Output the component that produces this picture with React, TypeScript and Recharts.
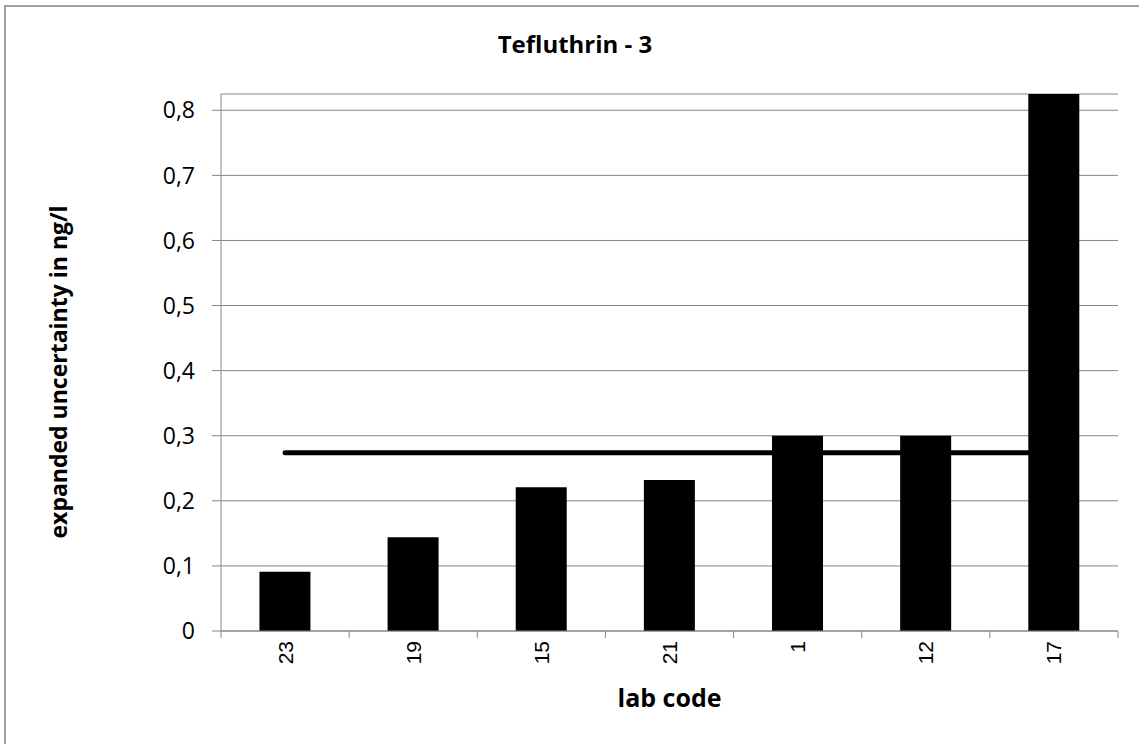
import React from 'react';
import { ComposedChart, Bar, Line, XAxis, YAxis, CartesianGrid, Label } from 'recharts';

const labCodes = ['23', '19', '15', '21', '1', '12', '17'];
const uncertainty = [0.091, 0.144, 0.221, 0.232, 0.3, 0.3, 0.825];
const targetUncertainty = [0.274, 0.274, 0.274, 0.274, 0.274, 0.274, 0.274];
const yTicks = [0, 0.1, 0.2, 0.3, 0.4, 0.5, 0.6, 0.7, 0.8];

const data = labCodes.map((c, i) => ({ lab: c, u: uncertainty[i], target: targetUncertainty[i] }));

const GRID = '#868686';
const BOLD_FONT = '"Open Sans", sans-serif';

const XTick = (props: any) => {
  const { x, y, payload, index, visibleTicksCount } = props;
  const off = payload && payload.offset ? payload.offset : 0;
  const isLast = index === visibleTicksCount - 1;
  return (
    <g>
      <line x1={x - off} x2={x - off} y1={y} y2={y + 7} stroke={GRID} strokeWidth={1} />
      {isLast && <line x1={x + off} x2={x + off} y1={y} y2={y + 7} stroke={GRID} strokeWidth={1} />}
      <text
        transform={`translate(${x},${y + 10}) rotate(-90)`}
        textAnchor="end"
        dominantBaseline="central"
        fontFamily="Liberation Sans, Arial, sans-serif"
        fontSize={21}
        fill="#000"
      >
        {payload.value}
      </text>
    </g>
  );
};

const fmt = (v: number) => (v === 0 ? '0' : v.toFixed(1).replace('.', ','));

export default function App() {
  return (
    <div style={{ position: 'absolute', left: 0, top: 0, width: 1139, height: 744, background: '#fff', overflow: 'hidden' }}>
      <div style={{ position: 'absolute', left: 4, top: 5, width: 1200, height: 800, borderLeft: '2px solid #a0a0a0', borderTop: '2px solid #a0a0a0' }} />
      <div style={{ position: 'absolute', left: 375, top: 28, width: 400, textAlign: 'center', fontFamily: BOLD_FONT, fontWeight: 700, fontSize: 24, lineHeight: '32px', color: '#000' }}>
        Tefluthrin - 3
      </div>
      <div style={{ position: 'absolute', left: 0, top: 0 }}>
        <ComposedChart
          width={1139}
          height={744}
          data={data}
          margin={{ top: 94, right: 21, left: 161, bottom: 73 }}
          barCategoryGap="30%"
        >
          <CartesianGrid vertical={false} stroke={GRID} strokeWidth={1} />
          <XAxis
            dataKey="lab"
            height={40}
            stroke={GRID}
            tickLine={false}
            tickSize={0}
            tickMargin={0}
            interval={0}
            tick={<XTick />}
          >
            <Label
              content={(p: any) => {
                const vb = p.viewBox;
                return (
                  <text
                    x={vb.x + vb.width / 2}
                    y={697}
                    textAnchor="middle"
                    dominantBaseline="central"
                    fontFamily={BOLD_FONT}
                    fontWeight={700}
                    fontSize={25}
                    fill="#000"
                  >
                    lab code
                  </text>
                );
              }}
            />
          </XAxis>
          <YAxis
            width={60}
            domain={[0, 0.825]}
            ticks={yTicks}
            allowDataOverflow
            stroke={GRID}
            tickSize={9}
            tickMargin={17}
            tickFormatter={fmt}
            tick={{ fill: '#000', fontFamily: '"Open Sans", sans-serif', fontSize: 23 }}
          >
            <Label
              content={() => (
                <text
                  x={58}
                  y={372}
                  transform="rotate(-90 58 372)"
                  textAnchor="middle"
                  dominantBaseline="central"
                  fontFamily={BOLD_FONT}
                  fontWeight={700}
                  fontSize={23}
                  fill="#000"
                >
                  expanded uncertainty in ng/l
                </text>
              )}
            />
          </YAxis>
          <Line
            dataKey="target"
            stroke="#000"
            strokeWidth={5}
            strokeLinecap="round"
            dot={false}
            activeDot={false}
            isAnimationActive={false}
          />
          <Bar dataKey="u" fill="#000" isAnimationActive={false} />
        </ComposedChart>
      </div>
    </div>
  );
}
